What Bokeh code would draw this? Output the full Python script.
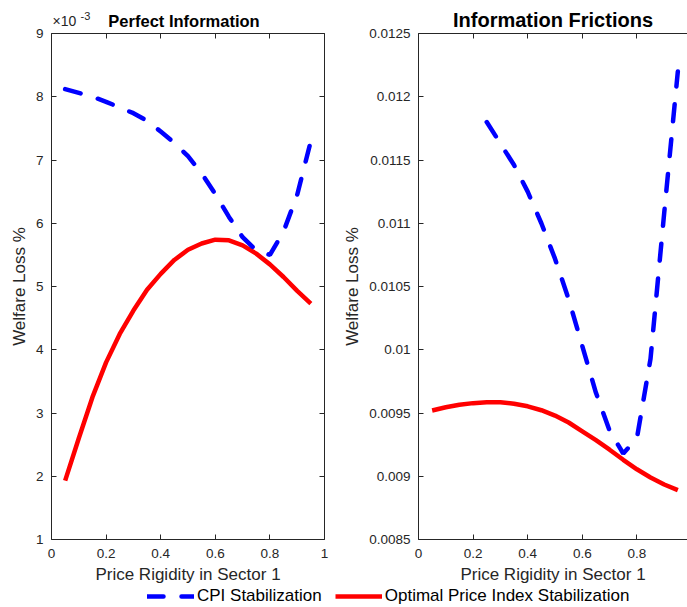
from bokeh.plotting import figure
from bokeh.layouts import column, row
from bokeh.models import (LinearAxis, FixedTicker, CustomJSTickFormatter, Range1d,
                          Legend, LegendItem)
from bokeh.core.properties import value
from bokeh.embed import file_html
from bokeh.resources import INLINE

# ---------------- data ----------------
rigidity = [0.05, 0.10, 0.15, 0.20, 0.25, 0.30, 0.35, 0.40, 0.45, 0.50,
            0.55, 0.60, 0.65, 0.70, 0.75, 0.80, 0.85, 0.90, 0.95]
rigidity_cpi_frictions = [0.25, 0.30, 0.35, 0.40, 0.45, 0.50, 0.55, 0.60,
                          0.65, 0.70, 0.75, 0.80, 0.85, 0.90, 0.95]

# Perfect information (values in units of 1e-3)
perfect_cpi = [8.12, 8.06, 8.00, 7.92, 7.83, 7.74, 7.62, 7.45, 7.27, 7.06,
               6.79, 6.46, 6.10, 5.78, 5.57, 5.50, 5.87, 6.45, 7.30]
perfect_opt = [1.93, 2.60, 3.25, 3.80, 4.25, 4.62, 4.95, 5.20, 5.42, 5.58,
               5.68, 5.74, 5.73, 5.65, 5.52, 5.35, 5.15, 4.93, 4.73]

# Information frictions
frictions_cpi = [0.01180, 0.01163, 0.01146, 0.01125, 0.01100, 0.01072, 0.01040,
                 0.01003, 0.00966, 0.00936, 0.00918, 0.00930, 0.00993, 0.01108,
                 0.01220]
frictions_opt = [0.009520, 0.009545, 0.009565, 0.009578, 0.009585, 0.009585,
                 0.009573, 0.009553, 0.009522, 0.009480, 0.009425, 0.009355,
                 0.009285, 0.009210, 0.009130, 0.009055, 0.008990, 0.008935,
                 0.008890]

x_ticks = [0, 0.2, 0.4, 0.6, 0.8, 1]
perfect_y_ticks = [1, 2, 3, 4, 5, 6, 7, 8, 9]
frictions_y_ticks = [0.0085, 0.009, 0.0095, 0.01, 0.0105, 0.011, 0.0115, 0.012, 0.0125]

series_names = ["CPI Stabilization", "Optimal Price Index Stabilization"]
titles = ["Perfect Information", "Information Frictions"]
exponent_text = ["\u00d710", "-3"]
x_label = "Price Rigidity in Sector 1"
y_label = "Welfare Loss %"

# ---------------- style ----------------
FONT = "Liberation Sans"
AX = "#262626"
BLUE = "#0000FF"
RED = "#FF0000"
LW = 4.5
DASH_L = "16 18"
DASH_R = "17 18"
TICK_FS = "13.5px"
LABEL_FS = "17px"
HEAD_H = 27
SHIFT = 5

fmt = CustomJSTickFormatter(code="return String(Math.round(tick*100000)/100000);")


def make_axis(ticks, label=None, show_labels=True, standoff=8):
    ax = LinearAxis(ticker=FixedTicker(ticks=ticks), formatter=fmt)
    ax.axis_line_color = AX
    ax.axis_line_width = 1
    ax.major_tick_line_color = AX
    ax.major_tick_in = 5
    ax.major_tick_out = 0
    ax.minor_tick_line_color = None
    ax.major_label_text_font = FONT
    ax.major_label_text_color = AX
    if show_labels:
        ax.major_label_text_font_size = TICK_FS
        ax.major_label_standoff = standoff
    else:
        ax.major_label_text_font_size = "0px"
        ax.major_label_standoff = 0
    if label:
        ax.axis_label = label
        ax.axis_label_text_font = FONT
        ax.axis_label_text_font_size = LABEL_FS
        ax.axis_label_text_font_style = "normal"
        ax.axis_label_text_color = AX
        ax.axis_label_standoff = 4
    return ax


def base_fig(width, x_end, y_start, y_end, left, right):
    p = figure(width=width, height=586 - HEAD_H, x_range=Range1d(0, x_end),
               y_range=Range1d(y_start, y_end), output_backend="svg",
               toolbar_location=None, x_axis_type=None, y_axis_type=None,
               min_border_left=left, min_border_right=right,
               min_border_top=33 - HEAD_H, min_border_bottom=46)
    p.outline_line_color = None
    p.background_fill_color = "#FFFFFF"
    p.border_fill_color = "#FFFFFF"
    return p


# ---------------- header strip (titles and exponent) ----------------
ph = figure(width=687, height=HEAD_H, x_range=Range1d(0, 687),
            y_range=Range1d(HEAD_H, 0), output_backend="svg",
            toolbar_location=None, x_axis_type=None, y_axis_type=None, min_border=0)
ph.outline_line_color = None
ph.text(x=[52], y=[25.5 - SHIFT], text=[exponent_text[0]], text_font=value(FONT),
        text_font_size="14px", text_color=AX, text_align="left",
        text_baseline="alphabetic")
ph.text(x=[80], y=[20 - SHIFT], text=[exponent_text[1]], text_font=value(FONT),
        text_font_size="11px", text_color=AX, text_align="left",
        text_baseline="alphabetic")
ph.text(x=[183.5], y=[25.5 - SHIFT], text=[titles[0]], text_font=value(FONT),
        text_font_size="16.5px", text_font_style="bold", text_color="#000000",
        text_align="center", text_baseline="alphabetic")
ph.text(x=[552.5], y=[24 - SHIFT], text=[titles[1]], text_font=value(FONT),
        text_font_size="20px", text_font_style="bold", text_color="#000000",
        text_align="center", text_baseline="alphabetic")

# ---------------- left panel ----------------
p1 = base_fig(340, 1, perfect_y_ticks[0], perfect_y_ticks[-1], 51, 16)
p1.add_layout(make_axis(perfect_y_ticks, y_label), "left")
p1.add_layout(make_axis(x_ticks, x_label, standoff=9), "below")
p1.add_layout(make_axis(x_ticks, show_labels=False), "above")
p1.add_layout(make_axis(perfect_y_ticks, show_labels=False), "right")
p1.line(rigidity, perfect_opt, line_color=RED, line_width=LW)
p1.line(rigidity, perfect_cpi, line_color=BLUE, line_width=LW, line_dash=DASH_L,
        line_cap="round")

# ---------------- right panel ----------------
p2 = base_fig(347, 270 / 274, frictions_y_ticks[0], frictions_y_ticks[-1], 77, 0)
p2.add_layout(make_axis(frictions_y_ticks, y_label), "left")
p2.add_layout(make_axis(x_ticks, x_label, standoff=9), "below")
p2.add_layout(make_axis(x_ticks, show_labels=False), "above")
p2.line(rigidity, frictions_opt, line_color=RED, line_width=LW)
p2.line(rigidity_cpi_frictions, frictions_cpi, line_color=BLUE, line_width=LW,
        line_dash=DASH_R, line_cap="round")

# ---------------- legend strip ----------------
pl = figure(width=687, height=21, x_range=Range1d(0, 1), y_range=Range1d(0, 1),
            output_backend="svg", toolbar_location=None, x_axis_type=None,
            y_axis_type=None, min_border=0)
pl.outline_line_color = None
r_cpi = pl.line(x=[-5, -4], y=[-5, -5], line_color=BLUE, line_width=LW,
                line_dash=DASH_L, line_cap="round")
r_opt = pl.line(x=[-5, -4], y=[-5, -5], line_color=RED, line_width=LW)
legend = Legend(items=[LegendItem(label=series_names[0], renderers=[r_cpi]),
                       LegendItem(label=series_names[1], renderers=[r_opt])],
                orientation="horizontal", location=(147, 1), padding=0, margin=0,
                spacing=13, label_standoff=3, glyph_width=47, glyph_height=18,
                label_text_font=FONT, label_text_font_size="17px",
                label_text_color="#000000", border_line_alpha=0,
                background_fill_alpha=0)
pl.add_layout(legend)

layout = column(ph, row(p1, p2), pl)
open("out.html", "w").write(file_html(layout, INLINE))
